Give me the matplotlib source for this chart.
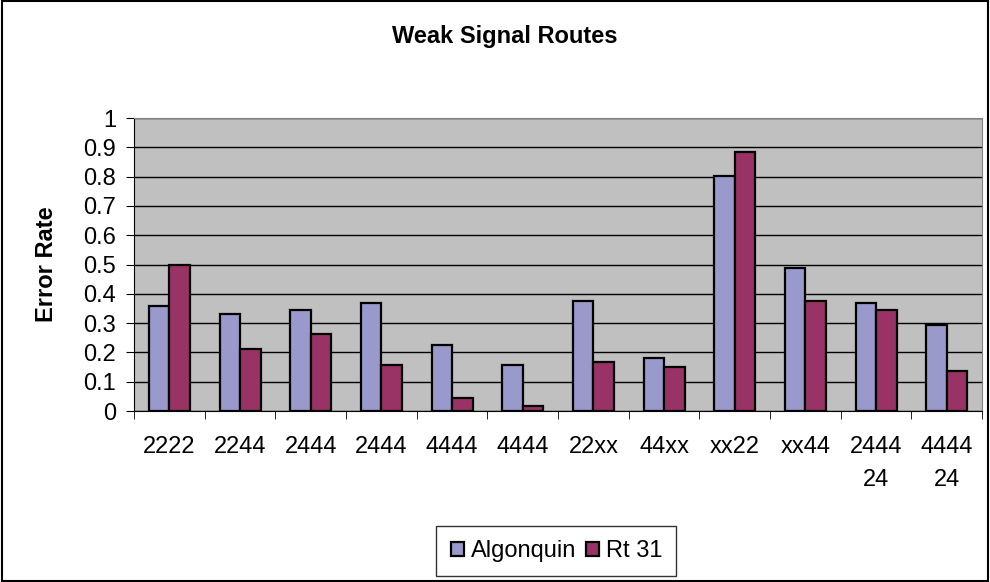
import matplotlib.pyplot as plt
import numpy as np

categories = ["2222", "2244", "2444", "2444", "4444", "4444",
              "22xx", "44xx", "xx22", "xx44", "2444\n24", "4444\n24"]
algonquin = [0.36, 0.331, 0.345, 0.368, 0.226, 0.158,
             0.375, 0.181, 0.802, 0.488, 0.368, 0.293]
rt31 = [0.50, 0.211, 0.263, 0.158, 0.046, 0.017,
        0.166, 0.151, 0.884, 0.375, 0.345, 0.136]
y_ticks = [0, 0.1, 0.2, 0.3, 0.4, 0.5, 0.6, 0.7, 0.8, 0.9, 1]

plt.rcParams['font.family'] = ['Liberation Sans', 'DejaVu Sans']

fig = plt.figure(figsize=(9.9, 5.82), dpi=100)
ax = fig.add_axes([0.1354, 0.2938, 0.8566, 0.5034])
ax.set_facecolor('#C0C0C0')

x = np.arange(len(categories))
w = 0.29
ax.bar(x - w / 2, algonquin, w, color='#9999CC', edgecolor='black',
       linewidth=1.6, label='Algonquin', zorder=3)
ax.bar(x + w / 2, rt31, w, color='#993366', edgecolor='black',
       linewidth=1.6, label='Rt 31', zorder=3)

ax.set_xlim(-0.5, len(categories) - 0.5)
ax.set_ylim(0, 1)
ax.set_yticks(y_ticks)
ax.set_yticklabels([f"{v:g}" for v in y_ticks], fontsize=17)
ax.yaxis.grid(True, color='black', linewidth=1, zorder=0)

ax.set_xticks(x)
ax.set_xticklabels(categories, fontsize=17, linespacing=1.65, va='top')
ax.tick_params(axis='x', which='major', length=0, pad=18)
ax.set_xticks(np.arange(len(categories) + 1) - 0.5, minor=True)
ax.tick_params(axis='x', which='minor', length=6, color='black')
ax.tick_params(axis='y', length=6, color='black', pad=7)

ax.spines['top'].set_color('#808080')
ax.spines['right'].set_color('#808080')
ax.spines['left'].set_color('black')
ax.spines['bottom'].set_color('black')

ax.set_ylabel('Error Rate', fontsize=17, fontweight='bold')
ax.yaxis.set_label_coords(-0.09, 0.5)
fig.text(0.510, 0.938, 'Weak Signal Routes', ha='center', va='center',
         fontsize=17, fontweight='bold')

leg = fig.legend(loc='center', bbox_to_anchor=(0.562, 0.053), ncol=2,
                 fontsize=17, frameon=True, fancybox=False,
                 handlelength=0.55, handleheight=0.55, handletextpad=0.3,
                 columnspacing=0.4, borderpad=0.6, borderaxespad=0)
leg.get_frame().set_edgecolor('black')
leg.get_frame().set_linewidth(1)

fig.patches.append(plt.Rectangle((0.002, 0.002), 0.996, 0.996,
                                 transform=fig.transFigure, fill=False,
                                 edgecolor='black', linewidth=1.5))

fig.savefig('out.png', dpi=100)
